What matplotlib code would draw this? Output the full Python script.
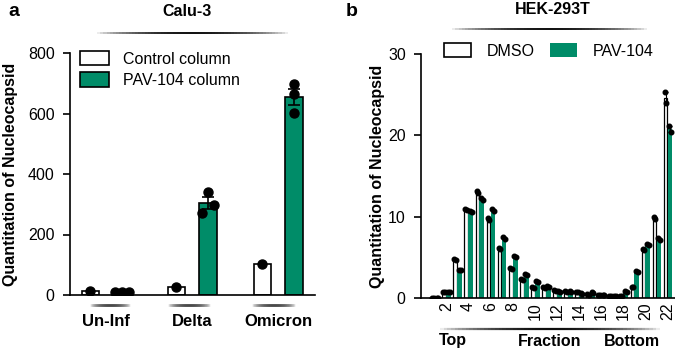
import numpy as np
import matplotlib
matplotlib.use("Agg")
import matplotlib.pyplot as plt
from matplotlib.collections import LineCollection
from matplotlib.patches import Patch

plt.rcParams['font.family'] = ['Liberation Sans', 'DejaVu Sans']

GREEN = '#008c68'

# ---- panel a data (Calu-3) ----
groups = ['Un-Inf', 'Delta', 'Omicron']
ctrl_reps = [[12], [28], [102]]
pav_reps = [[10, 10, 10], [270, 339, 299], [697, 664, 602]]

# ---- panel b data (HEK-293T) ----
fractions = list(range(1, 23))
dmso_rep1 = [0.0, 0.75, 4.8, 10.9, 13.2, 9.8, 6.2, 3.7, 2.3, 1.3, 1.3, 1.0,
             0.8, 0.7, 0.5, 0.4, 0.3, 0.3, 1.4, 6.0, 9.9, 25.3]
dmso_rep2 = [0.0, 0.75, 4.7, 10.8, 12.9, 9.6, 6.0, 3.6, 2.2, 1.2, 1.2, 0.9,
             0.7, 0.7, 0.4, 0.4, 0.3, 0.3, 1.4, 5.9, 9.7, 24.0]
pav_rep1 = [0.0, 0.75, 3.5, 10.7, 12.3, 10.9, 7.5, 5.2, 2.9, 2.1, 1.5, 0.8,
            0.8, 0.6, 0.7, 0.4, 0.3, 0.8, 3.3, 6.7, 7.4, 21.1]
pav_rep2 = [0.0, 0.75, 3.4, 10.6, 12.1, 10.7, 7.3, 5.0, 2.8, 2.0, 1.4, 0.7,
            0.7, 0.5, 0.6, 0.4, 0.3, 0.7, 3.2, 6.5, 7.1, 20.4]


def mean_sem(reps):
    r = np.asarray(reps, dtype=float)
    m = r.mean(axis=-1)
    if r.shape[-1] > 1:
        s = r.std(axis=-1, ddof=1) / np.sqrt(r.shape[-1])
    else:
        s = np.zeros_like(m)
    return m, s


def fade_line(fig, x0, x1, y, lw=1.6):
    # line that fades out at both ends, in pixel coords of the figure
    n = 60
    xs = np.linspace(x0, x1, n + 1)
    segs = [[(xs[i] / 675, 1 - y / 355), (xs[i + 1] / 675, 1 - y / 355)] for i in range(n)]
    t = (np.arange(n) + 0.5) / n
    alpha = np.sin(np.pi * t) ** 0.7
    cols = [(0.05, 0.05, 0.05, a) for a in alpha]
    lc = LineCollection(segs, colors=cols, linewidths=lw, transform=fig.transFigure)
    fig.add_artist(lc)


fig = plt.figure(figsize=(6.75, 3.55), dpi=100)

# ================= panel a =================
ax = fig.add_axes([70 / 675, 1 - 295 / 355, (315 - 70) / 675, (295 - 53) / 355])
xg = np.arange(len(groups))
off, w = 0.185, 0.2
cm = [np.mean(r) for r in ctrl_reps]
pm, ps = mean_sem(np.array(pav_reps))
ax.bar(xg - off, cm, w, color='white', edgecolor='black', linewidth=1.2, zorder=2,
       label='Control column')
ax.bar(xg + off, pm, w, color=GREEN, edgecolor='black', linewidth=1.2, zorder=2,
       label='PAV-104 column')
ax.errorbar(xg + off, pm, yerr=ps, fmt='none', ecolor='black', elinewidth=1.2,
            capsize=4, capthick=1.2, zorder=3)
jit = [[-0.08, 0.0, 0.08], [-0.065, 0.0, 0.075], [0.0, 0.0, 0.0]]
for i in range(len(groups)):
    ax.plot([xg[i] - off] * len(ctrl_reps[i]), ctrl_reps[i], 'o', color='black',
            ms=6.5, zorder=4)
    ax.plot(xg[i] + off + np.array(jit[i]), pav_reps[i], 'o', color='black',
            ms=6.5, zorder=4)

ax.set_xlim(-0.42, 2.43)
ax.set_ylim(0, 800)
ax.set_yticks([0, 200, 400, 600, 800])
ax.set_xticks(xg)
ax.set_xticklabels(groups, fontweight='bold', fontsize=12)
ax.tick_params(axis='x', length=0, pad=14)
ax.tick_params(axis='y', length=5, width=1.2, pad=6, labelsize=11.5)
for s in ['top', 'right']:
    ax.spines[s].set_visible(False)
for s in ['left', 'bottom']:
    ax.spines[s].set_linewidth(1.2)
ax.set_ylabel('Quantitation of Nucleocapsid', fontweight='bold', fontsize=11.5,
              labelpad=7)
fig.legend(handles=[Patch(facecolor='white', edgecolor='black', linewidth=1.2),
                    Patch(facecolor=GREEN, edgecolor='black', linewidth=1.2)],
           labels=['Control column', 'PAV-104 column'],
           loc='upper left', bbox_to_anchor=(80 / 675, 1 - 51 / 355), frameon=False,
           fontsize=11.5, handlelength=1.8, handleheight=1.0, handletextpad=0.9,
           labelspacing=0.35, borderpad=0, borderaxespad=0)

fig.text(187 / 675, 1 - 11 / 355, 'Calu-3', ha='center', va='center',
         fontweight='bold', fontsize=11.5)
fig.text(8 / 675, 1 - 11 / 355, 'a', ha='left', va='center', fontweight='bold',
         fontsize=14)
fade_line(fig, 97, 288, 33, lw=1.4)
for x0, x1 in [(90, 130), (168, 210), (252, 295)]:
    fade_line(fig, x0, x1, 305, lw=2.0)

# ================= panel b =================
bx = fig.add_axes([421 / 675, 1 - 298 / 355, (675 - 421) / 675, (298 - 54) / 355])
xf = np.array(fractions)
dm, ds = mean_sem(np.column_stack([dmso_rep1, dmso_rep2]))
pvm, pvs = mean_sem(np.column_stack([pav_rep1, pav_rep2]))
d_off, d_w = -0.2, 0.34
p_off, p_w = 0.2, 0.44
bx.bar(xf + d_off, dm, d_w, color='white', edgecolor='black', linewidth=0.9, zorder=2)
bx.bar(xf + p_off, pvm, p_w, color=GREEN, edgecolor='none', zorder=2)
bx.errorbar(xf + d_off, dm, yerr=ds, fmt='none', ecolor='black', elinewidth=0.8,
            capsize=1.2, capthick=0.8, zorder=3)
bx.errorbar(xf + p_off, pvm, yerr=pvs, fmt='none', ecolor='black', elinewidth=0.8,
            capsize=1.2, capthick=0.8, zorder=3)
bx.plot(xf + d_off - 0.08, dmso_rep1, 'o', color='black', ms=3.3, zorder=4)
bx.plot(xf + d_off + 0.08, dmso_rep2, 'o', color='black', ms=3.3, zorder=4)
bx.plot(xf + p_off - 0.08, pav_rep1, 'o', color='black', ms=3.3, zorder=4)
bx.plot(xf + p_off + 0.08, pav_rep2, 'o', color='black', ms=3.3, zorder=4)

bx.set_xlim(-0.3, 22.65)
bx.set_ylim(0, 30)
bx.set_yticks([0, 10, 20, 30])
bx.set_xticks(xf[1::2])
bx.set_xticklabels([str(f) for f in fractions[1::2]], rotation=90, fontsize=11.5)
bx.tick_params(axis='x', length=0, pad=3)
bx.tick_params(axis='y', length=5, width=1.2, pad=6, labelsize=11.5)
for s in ['top', 'right']:
    bx.spines[s].set_visible(False)
for s in ['left', 'bottom']:
    bx.spines[s].set_linewidth(1.2)
bx.set_ylabel('Quantitation of Nucleocapsid', fontweight='bold', fontsize=11.5,
              labelpad=2)
fig.legend(handles=[Patch(facecolor='white', edgecolor='black', linewidth=1.2),
                    Patch(facecolor=GREEN, edgecolor='none')],
           labels=['DMSO', 'PAV-104'], ncol=2,
           loc='upper left', bbox_to_anchor=(444 / 675, 1 - 43 / 355), frameon=False,
           fontsize=11.5, handlelength=1.7, handleheight=1.0, handletextpad=1.0,
           columnspacing=0.9, borderpad=0, borderaxespad=0)

fig.text(553 / 675, 1 - 10 / 355, 'HEK-293T', ha='center', va='center',
         fontweight='bold', fontsize=11.5)
fig.text(346 / 675, 1 - 11 / 355, 'b', ha='left', va='center', fontweight='bold',
         fontsize=14)
fade_line(fig, 452, 647, 29, lw=1.4)
fade_line(fig, 440, 660, 329, lw=1.6)
for txt, xc in [('Top', 453), ('Fraction', 550), ('Bottom', 632)]:
    fig.text(xc / 675, 1 - 341 / 355, txt, ha='center', va='center',
             fontweight='bold', fontsize=11.5)

fig.savefig('out.png', dpi=100)
